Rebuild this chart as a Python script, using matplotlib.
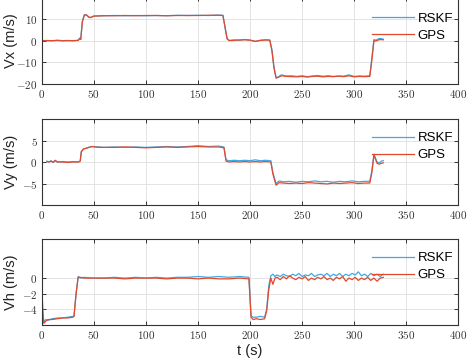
import matplotlib
matplotlib.use("Agg")
import matplotlib.pyplot as plt
from matplotlib.ticker import FuncFormatter

plt.rcParams['mathtext.fontset'] = 'cm'

# Vx panel
t_x = [0, 5, 10, 15, 20, 25, 30, 35,
       36.5, 37.5, 39, 41, 43, 45, 47,
       50, 60, 70, 80, 90, 100, 110, 120, 130, 140, 150, 160, 170,
       174, 176, 178,
       180, 185, 190, 195, 200, 205, 210, 215,
       219, 221, 223, 225, 227,
       230, 235, 240, 245, 250, 255, 260, 265, 270, 275, 280, 285, 290, 295, 300, 305, 310, 315,
       317, 319, 321, 323, 325,
       328]
vx_rskf = [0.0, 0.1, -0.1, 0.2, 0.0, 0.1, -0.1, 0.2,
           1.2, 0.8, 9.0, 12.0, 11.8, 10.8, 10.7,
           11.4, 11.5, 11.6, 11.5, 11.6, 11.5, 11.6, 11.5, 11.7, 11.6, 11.7, 11.6, 11.8,
           11.7, 6.0, 0.8,
           0.1, 0.3, 0.2, 0.5, 0.3, -0.4, 0.2, 0.4,
           0.3, -4.0, -12.0, -17.0, -16.8,
           -15.8, -16.3, -16.2, -16.5, -16.2, -16.6, -16.3, -16.1, -16.4, -16.2, -16.5, -16.3, -16.4, -15.8, -16.5, -16.3, -16.4, -16.2,
           -8.0, 0.5, 0.2, 0.8, 1.0,
           0.7]
vx_gps = [0.0, 0.0, 0.0, 0.1, -0.1, 0.0, 0.0, 0.1,
          1.0, 0.5, 8.5, 11.8, 11.9, 11.0, 10.6,
          11.3, 11.5, 11.5, 11.6, 11.5, 11.6, 11.6, 11.5, 11.6, 11.6, 11.6, 11.7, 11.7,
          11.6, 6.5, 1.0,
          0.0, 0.2, 0.3, 0.4, 0.2, -0.3, 0.1, 0.3,
          0.2, -4.5, -12.5, -17.3, -17.0,
          -16.2, -16.5, -16.6, -16.7, -16.5, -16.8, -16.5, -16.4, -16.7, -16.5, -16.6, -16.4, -16.6, -16.2, -16.7, -16.5, -16.6, -16.5,
          -9.0, 0.0, -0.2, 0.3, 0.5,
          0.4]

# Vy panel
t_y = [5, 7, 9, 11, 13, 15,
       20, 25, 30, 35,
       37, 38, 40, 44, 48,
       55,
       60, 70, 80, 90, 100, 110, 120, 130, 140, 150, 160, 170,
       175, 177,
       180, 185, 190, 195, 200, 205, 210, 215, 220,
       222, 225, 228,
       232, 238, 244, 250, 256, 262, 268, 274, 280, 286, 292, 298, 304, 310,
       315, 317, 319, 320,
       322, 324, 326, 328]
vy_rskf = [0.2, 0.0, 0.3, -0.1, 0.3, 0.0,
           0.1, 0.0, 0.1, 0.0,
           0.2, 2.5, 3.0, 3.3, 3.6,
           3.5,
           3.4, 3.5, 3.4, 3.5, 3.4, 3.5, 3.6, 3.5, 3.6, 3.8, 3.6, 3.7,
           3.5, 0.5,
           0.3, 0.4, 0.3, 0.4, 0.3, 0.5, 0.3, 0.4, 0.3,
           -2.5, -5.0, -4.4,
           -4.6, -4.5, -4.7, -4.5, -4.6, -4.4, -4.6, -4.5, -4.7, -4.5, -4.6, -4.4, -4.6, -4.5,
           -4.5, -2.0, 1.8, 1.2,
           0.0, -0.2, 0.2, 0.3]
vy_gps = [0.1, 0.0, 0.2, -0.1, 0.4, 0.0,
          0.0, -0.1, 0.0, 0.0,
          0.2, 2.3, 3.0, 3.3, 3.6,
          3.4,
          3.4, 3.4, 3.5, 3.4, 3.3, 3.4, 3.5, 3.4, 3.5, 3.6, 3.5, 3.5,
          3.3, 0.2,
          0.0, 0.1, 0.0, 0.1, 0.0, 0.1, 0.0, 0.1, 0.0,
          -2.8, -5.4, -4.8,
          -4.9, -5.0, -4.9, -5.0, -4.8, -4.9, -5.0, -5.1, -4.9, -5.0, -4.9, -4.8, -5.0, -4.9,
          -4.9, -2.5, 1.6, 1.0,
          -0.3, -0.5, -0.3, -0.2]

# Vh panel
t_h = [0, 1, 2, 4, 6,
       10, 15, 20, 25, 30,
       31, 33, 35, 37,
       40,
       50, 60, 70, 80, 90, 100, 110, 120, 130, 140, 150, 160, 170, 180, 190,
       199, 201, 203, 206, 210, 214, 216, 218, 220, 222, 224,
       226, 229, 232, 235, 238, 241, 244, 247, 250, 253, 256, 259, 262, 265, 268, 271, 274,
       277, 280, 283, 286, 289, 292, 295, 298, 301, 304, 307, 310, 313, 316, 319, 322, 325, 328]
vh_rskf = [-0.5, -4.0, -5.6, -5.3, -5.4,
           -5.2, -5.1, -5.1, -5.0, -4.9,
           -4.9, -2.0, 0.2, 0.0,
           0.1,
           0.0, 0.0, 0.1, 0.0, 0.1, 0.0, 0.1, 0.0, 0.1, 0.1, 0.2, 0.1, 0.2, 0.1, 0.2,
           0.1, -4.8, -5.0, -5.0, -4.9, -5.0, -4.0, -1.0, 0.3, 0.5, 0.2,
           0.4, 0.2, 0.5, 0.3, 0.2, 0.5, 0.3, 0.6, 0.2, 0.4, 0.3, 0.6, 0.2, 0.4, 0.5, 0.3, 0.6,
           0.2, 0.5, 0.3, 0.6, 0.2, 0.5, 0.3, 0.6, 0.4, 0.8, 0.3, 0.5, 0.2, 0.6, 0.3, 0.5, 0.2, 0.5]
vh_gps = [-0.3, -4.5, -5.8, -5.5, -5.3,
          -5.3, -5.2, -5.1, -5.1, -5.0,
          -4.9, -2.0, 0.1, 0.1,
          0.0,
          0.0, 0.0, 0.0, -0.1, 0.0, 0.0, 0.0, -0.1, 0.0, 0.0, -0.1, 0.0, -0.1, -0.1, 0.0,
          -0.1, -5.0, -5.3, -5.2, -5.3, -5.2, -4.2, -1.5, 0.0, -0.8, 0.0,
          0.1, -0.2, 0.2, -0.1, 0.3, 0.0, -0.2, 0.1, -0.1, 0.2, -0.3, 0.0, -0.2, 0.1, -0.1, 0.2, -0.2,
          0.0, -0.3, 0.1, -0.1, 0.2, -0.4, 0.0, -0.2, 0.1, -0.3, 0.0, -0.2, 0.1, -0.3, 0.0, -0.4, 0.0, 0.1]

panels = [
    (t_x, vx_rskf, vx_gps, 'Vx (m/s)', (-20, 20), [-20, -10, 0, 10]),
    (t_y, vy_rskf, vy_gps, 'Vy (m/s)', (-10, 10), [-5, 0, 5]),
    (t_h, vh_rskf, vh_gps, 'Vh (m/s)', (-6, 5), [-4, -2, 0]),
]
xticks = [0, 50, 100, 150, 200, 250, 300, 350, 400]

# axes placement in pixels of the 474x362 picture (top, bottom)
W, H = 474.0, 362.0
x0, x1 = 41.7, 458.3
boxes = [(-2.7, 84.0), (119.0, 205.0), (239.0, 325.0)]

fig = plt.figure(figsize=(4.74, 3.62), dpi=100)
fmt = FuncFormatter(lambda v, p: '$%d$' % v)
axc = '#333333'

for (t, rskf, gps, ylab, ylim, yt), (top, bot) in zip(panels, boxes):
    ax = fig.add_axes([x0 / W, 1 - bot / H, (x1 - x0) / W, (bot - top) / H])
    ax.plot(t, rskf, color='#3fa9e6', lw=0.9, label='RSKF')
    ax.plot(t, gps, color='#e2492b', lw=0.9, label='GPS')
    ax.set_xlim(0, 400)
    ax.set_ylim(*ylim)
    ax.set_xticks(xticks)
    ax.set_yticks(yt)
    ax.xaxis.set_major_formatter(fmt)
    ax.yaxis.set_major_formatter(fmt)
    ax.grid(True, color='#e3e3e3', lw=0.7)
    ax.set_axisbelow(True)
    ax.tick_params(direction='in', length=3, width=0.7, colors=axc,
                   labelsize=8, top=True, right=True, pad=3)
    for s in ax.spines.values():
        s.set_color(axc)
        s.set_linewidth(0.8)
    ax.set_ylabel(ylab, fontsize=10.5, family='Liberation Sans', color='#222222')
    ax.yaxis.set_label_coords(-0.058, 0.5)
    hgt = bot - top
    ax.legend(loc='upper right', bbox_to_anchor=(1 + 4 / 416.6, 1 - (4 + (2 if top < 0 else 0)) / hgt),
              frameon=False,
              prop={'family': 'Liberation Sans', 'size': 9.5},
              handlelength=3.2, handletextpad=0.25, labelspacing=0.35,
              borderaxespad=0.3)

ax.set_xlabel('t (s)', fontsize=10.5, family='Liberation Sans', color='#222222')
ax.xaxis.set_label_coords(0.5, -0.22)

fig.savefig('out.png', dpi=100)
